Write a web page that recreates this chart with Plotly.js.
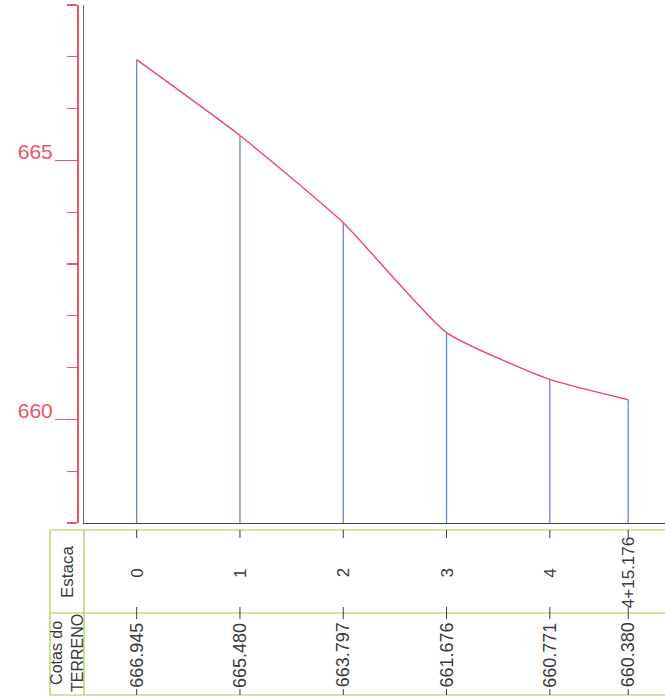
<!DOCTYPE html>
<html>
<head>
<meta charset="utf-8">
<script src="https://cdn.plot.ly/plotly-3.0.1.min.js"></script>
<style>html,body{margin:0;padding:0;background:#fff;}#chart{width:665px;height:697px;}</style>
</head>
<body>
<div id="chart"></div>
<script>
// Data
var stationLabels = ["0", "1", "2", "3", "4", "4+15.176"];
var distances = [0, 20, 40, 60, 80, 95.176];
var elevations = [666.945, 665.480, 663.797, 661.676, 660.771, 660.380];
var yTickVals = [660, 665];
var yTickText = ["660", "665"];
var rowTitles = ["Estaca", "Cotas do<br>TERRENO"];

var W = 665, H = 697;
function px(x) { return x / W; }
function py(y) { return 1 - y / H; }

var yMin = 658, yMax = 668;
var redAxis = "rgb(236,84,104)";
var redLine = "rgb(232,72,112)";
var blue = "rgb(92,124,222)";
var green = "rgb(160,208,70)";
var dark = "#3a3a3a";
var font = "Liberation Sans, Arial, sans-serif";

// vertical lines from base to each ground point
var vx = [], vy = [];
for (var i = 0; i < distances.length; i++) {
  vx.push(distances[i], distances[i], null);
  vy.push(yMin, elevations[i], null);
}

var traces = [
  {x: vx, y: vy, mode: "lines", line: {color: blue, width: 1.2}, hoverinfo: "skip", showlegend: false, yaxis: "y"},
  {x: distances, y: elevations, mode: "lines", line: {color: redLine, width: 1.4, shape: "spline", smoothing: 0.5}, showlegend: false, yaxis: "y2"}
];

var shapes = [];
function pline(x0, y0, x1, y1, color) {
  shapes.push({type: "line", xref: "paper", yref: "paper", x0: px(x0), y0: py(y0), x1: px(x1), y1: py(y1), line: {color: color, width: 1.2}});
}
// table frame
pline(50, 530, 670, 530, green);
pline(50, 695, 670, 695, green);
pline(50, 530, 50, 695, green);
pline(84, 530, 84, 695, green);
pline(50, 613, 670, 613, green);

var annotations = [];
for (var j = 0; j < distances.length; j++) {
  var d = distances[j];
  [[530, 538], [607, 619], [689, 695]].forEach(function (seg) {
    shapes.push({type: "line", xref: "x", yref: "paper", x0: d, x1: d, y0: py(seg[0]), y1: py(seg[1]), line: {color: dark, width: 1}});
  });
  annotations.push({x: d, xref: "x", y: py(573), yref: "paper", text: stationLabels[j], textangle: -90, showarrow: false,
    font: {family: font, size: 17, color: dark}, xanchor: "center", yanchor: "middle"});
  annotations.push({x: d, xref: "x", y: py(655), yref: "paper", text: elevations[j].toFixed(3), textangle: -90, showarrow: false,
    font: {family: font, size: 18, color: dark}, xanchor: "center", yanchor: "middle"});
}
annotations.push({x: px(67), xref: "paper", y: py(572), yref: "paper", text: rowTitles[0], textangle: -90, showarrow: false,
  font: {family: font, size: 17, color: dark}, xanchor: "center", yanchor: "middle"});
annotations.push({x: px(67), xref: "paper", y: py(653), yref: "paper", text: rowTitles[1], textangle: -90, showarrow: false,
  font: {family: font, size: 16, color: dark}, xanchor: "center", yanchor: "middle"});

var layout = {
  width: W, height: H,
  margin: {l: 0, r: 0, t: 0, b: 0, pad: 0},
  paper_bgcolor: "#fff", plot_bgcolor: "#fff",
  showlegend: false,
  xaxis: {domain: [px(84), 1], range: [-10.2, 102.3], showgrid: false, zeroline: false, showticklabels: false, ticks: "",
    showline: true, linecolor: "#444", linewidth: 1.2, fixedrange: true},
  yaxis: {domain: [py(523), py(5)], range: [yMin, yMax], showgrid: false, zeroline: false, showticklabels: false, ticks: "",
    showline: true, linecolor: "#666", linewidth: 1, fixedrange: true},
  yaxis2: {overlaying: "y", anchor: "free", position: px(77), side: "left", range: [yMin, yMax], showgrid: false, zeroline: false,
    showline: true, linecolor: redAxis, linewidth: 1.5,
    tickmode: "array", tickvals: yTickVals, ticktext: yTickText, ticks: "outside", ticklen: 22, tickcolor: redAxis, tickwidth: 1.3,
    ticklabelstandoff: -2, ticklabelshift: -9,
    tickfont: {family: font, size: 21, color: redAxis},
    minor: {tickmode: "linear", tick0: 658, dtick: 1, ticks: "outside", ticklen: 10, tickcolor: redAxis, tickwidth: 1.2},
    fixedrange: true},
  shapes: shapes,
  annotations: annotations
};

Plotly.newPlot("chart", traces, layout, {displayModeBar: false, staticPlot: true});
</script>
</body>
</html>
